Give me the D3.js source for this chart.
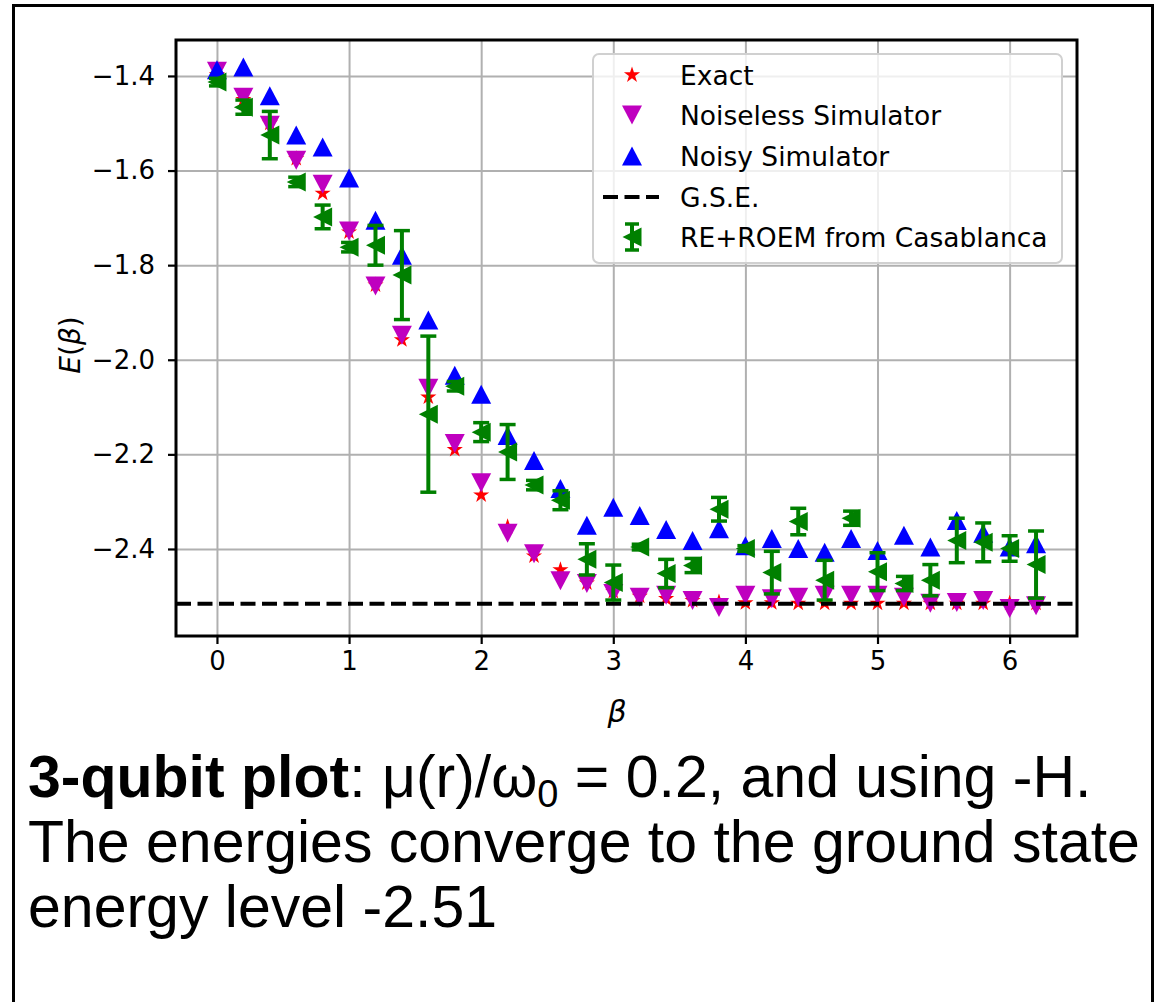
<!DOCTYPE html>
<html lang="en">
<head>
<meta charset="UTF-8">
<title>Energy vs beta</title>
<script src="https://d3js.org/d3.v7.min.js"></script>
<style>
  body { margin: 0; background: #fff; }
  svg { display: block; }
</style>
</head>
<body>
<script>
// --- data ---
var beta = [0, 0.2, 0.4, 0.6, 0.8, 1.0, 1.2, 1.4, 1.6, 1.8, 2.0, 2.2, 2.4, 2.6, 2.8, 3.0,
            3.2, 3.4, 3.6, 3.8, 4.0, 4.2, 4.4, 4.6, 4.8, 5.0, 5.2, 5.4, 5.6, 5.8, 6.0, 6.2];
var exact = [-1.398, -1.45, -1.50, -1.575, -1.648, -1.73, -1.842, -1.958, -2.079, -2.19, -2.286,
             -2.353, -2.415, -2.444, -2.472, -2.49, -2.5, -2.505, -2.509, -2.512, -2.514, -2.514,
             -2.515, -2.515, -2.515, -2.515, -2.515, -2.515, -2.515, -2.515, -2.515, -2.515];
var noiseless = [-1.39, -1.445, -1.504, -1.578, -1.629, -1.728, -1.844, -1.948, -2.06, -2.177, -2.26,
                 -2.367, -2.41, -2.467, -2.473, -2.494, -2.502, -2.498, -2.509, -2.524, -2.498, -2.505,
                 -2.502, -2.498, -2.498, -2.498, -2.502, -2.515, -2.513, -2.509, -2.526, -2.52];
var noisy = [-1.387, -1.381, -1.442, -1.525, -1.55, -1.616, -1.705, -1.779, -1.916, -2.033, -2.073,
             -2.16, -2.213, -2.272, -2.35, -2.312, -2.329, -2.359, -2.382, -2.357, -2.393, -2.378,
             -2.399, -2.407, -2.378, -2.403, -2.371, -2.396, -2.34, -2.367, -2.396, -2.389];
var casablanca = [-1.413, -1.466, -1.525, -1.624, -1.698, -1.762, -1.758, -1.821, -2.115, -2.056, -2.153,
                  -2.195, -2.265, -2.297, -2.422, -2.471, -2.396, -2.452, -2.435, -2.316, -2.399, -2.45,
                  -2.342, -2.466, -2.335, -2.448, -2.473, -2.466, -2.382, -2.386, -2.399, -2.433];
var casablancaErr = [0.008, 0.015, 0.05, 0.01, 0.025, 0.01, 0.042, 0.094, 0.165, 0.01, 0.02,
                     0.058, 0.01, 0.02, 0.033, 0.037, 0.006, 0.03, 0.015, 0.025, 0.006, 0.045,
                     0.028, 0.042, 0.015, 0.04, 0.015, 0.033, 0.047, 0.041, 0.027, 0.071];
var gse = -2.516;
var xTicks = [0, 1, 2, 3, 4, 5, 6];
var yTicks = [-1.4, -1.6, -1.8, -2.0, -2.2, -2.4];
var legendLabels = ['Exact', 'Noiseless Simulator', 'Noisy Simulator', 'G.S.E.', 'RE+ROEM from Casablanca'];

var W = 1162, H = 1002;
var pLeft = 176, pRight = 1077, pTop = 40, pBottom = 636;

var svg = d3.select('body').append('svg')
    .attr('width', W)
    .attr('height', H);

// outer frame of the slide box
svg.append('rect')
   .attr('x', 13.5).attr('y', 5.5)
   .attr('width', 1139).attr('height', 1010)
   .attr('fill', 'none')
   .attr('stroke', '#000')
   .attr('stroke-width', 3);

var x = d3.scaleLinear().domain([-0.31, 6.51]).range([pLeft, pRight]);
var y = d3.scaleLinear().domain([-2.584, -1.324]).range([pBottom, pTop]);

var tickFont = '"DejaVu Sans", sans-serif';
var fmtMinus = function(d) { return d3.format('.1f')(d).replace('-', '\u2212'); };

// grid
var grid = svg.append('g');
grid.append('g')
    .attr('transform', 'translate(0,' + pBottom + ')')
    .call(d3.axisBottom(x).tickValues(xTicks).tickSize(-(pBottom - pTop)).tickFormat(''))
    .call(function(g) { g.select('.domain').remove(); })
    .selectAll('line').attr('stroke', '#b0b0b0').attr('stroke-width', 2);
grid.append('g')
    .attr('transform', 'translate(' + pLeft + ',0)')
    .call(d3.axisLeft(y).tickValues(yTicks).tickSize(-(pRight - pLeft)).tickFormat(''))
    .call(function(g) { g.select('.domain').remove(); })
    .selectAll('line').attr('stroke', '#b0b0b0').attr('stroke-width', 2);

// marker shapes (matplotlib style, centred on bounding box)
function starPath(r) {
  var pts = [];
  for (var i = 0; i < 10; i++) {
    var rr = i % 2 === 0 ? r : r * 0.382;
    var a = -Math.PI / 2 + i * Math.PI / 5;
    pts.push([rr * Math.cos(a), rr * Math.sin(a)]);
  }
  return 'M' + pts.map(function(p) { return p[0].toFixed(2) + ',' + p[1].toFixed(2); }).join('L') + 'Z';
}
var triUp = 'M0,-9.5L-10,9.5L10,9.5Z';
var triDown = 'M0,9.5L-10,-9.5L10,-9.5Z';
var triLeft = 'M-9.5,0L9.5,-9.5L9.5,9.5Z';
var star = starPath(8.5);

var plot = svg.append('g');

function drawMarkers(vals, path, color) {
  plot.append('g').selectAll('path')
      .data(vals)
      .join('path')
      .attr('d', path)
      .attr('fill', color)
      .attr('transform', function(d, i) { return 'translate(' + x(beta[i]) + ',' + y(d) + ')'; });
}

drawMarkers(exact, star, '#ff0000');
drawMarkers(noiseless, triDown, '#bf00bf');
drawMarkers(noisy, triUp, '#0000ff');

// ground state energy line
plot.append('line')
    .attr('x1', pLeft).attr('x2', pRight)
    .attr('y1', y(gse)).attr('y2', y(gse))
    .attr('stroke', '#000')
    .attr('stroke-width', 4)
    .attr('stroke-dasharray', '15,6.5');

// error bars for Casablanca
var eb = plot.append('g').attr('stroke', '#008000');
eb.selectAll('line.bar')
  .data(casablanca)
  .join('line')
  .attr('class', 'bar')
  .attr('x1', function(d, i) { return x(beta[i]); })
  .attr('x2', function(d, i) { return x(beta[i]); })
  .attr('y1', function(d, i) { return y(d + casablancaErr[i]); })
  .attr('y2', function(d, i) { return y(d - casablancaErr[i]); })
  .attr('stroke-width', 4);
[1, -1].forEach(function(s) {
  eb.append('g').selectAll('line')
    .data(casablanca)
    .join('line')
    .attr('x1', function(d, i) { return x(beta[i]) - 8; })
    .attr('x2', function(d, i) { return x(beta[i]) + 8; })
    .attr('y1', function(d, i) { return y(d + s * casablancaErr[i]); })
    .attr('y2', function(d, i) { return y(d + s * casablancaErr[i]); })
    .attr('stroke-width', 3.5);
});
drawMarkers(casablanca, triLeft, '#008000');

// axes
var xAxis = svg.append('g')
    .attr('transform', 'translate(0,' + pBottom + ')')
    .call(d3.axisBottom(x).tickValues(xTicks).tickSize(8).tickPadding(8).tickFormat(d3.format('d')));
var yAxis = svg.append('g')
    .attr('transform', 'translate(' + pLeft + ',0)')
    .call(d3.axisLeft(y).tickValues(yTicks).tickSize(8).tickPadding(13).tickFormat(fmtMinus));
[xAxis, yAxis].forEach(function(a) {
  a.select('.domain').remove();
  a.selectAll('line').attr('stroke', '#000').attr('stroke-width', 2.2);
  a.selectAll('text').attr('font-family', tickFont).attr('font-size', 26).attr('fill', '#000');
});

// spines
svg.append('rect')
   .attr('x', pLeft).attr('y', pTop)
   .attr('width', pRight - pLeft).attr('height', pBottom - pTop)
   .attr('fill', 'none')
   .attr('stroke', '#000')
   .attr('stroke-width', 3);

// axis labels
svg.append('text')
   .attr('x', 617).attr('y', 722)
   .attr('text-anchor', 'middle')
   .attr('font-family', tickFont).attr('font-style', 'italic').attr('font-size', 30)
   .text('\u03b2');

var yl = svg.append('text')
   .attr('transform', 'translate(80,345) rotate(-90)')
   .attr('text-anchor', 'middle')
   .attr('font-family', tickFont).attr('font-size', 28);
yl.append('tspan').attr('font-style', 'italic').text('E');
yl.append('tspan').text('(');
yl.append('tspan').attr('font-style', 'italic').text('\u03b2');
yl.append('tspan').text(')');

// legend
var lg = svg.append('g').attr('transform', 'translate(593,54)');
lg.append('rect')
  .attr('width', 469).attr('height', 209)
  .attr('rx', 6)
  .attr('fill', '#fff').attr('fill-opacity', 0.8)
  .attr('stroke', '#d0d0d0').attr('stroke-width', 2);
var rowY = [21, 61, 102, 143, 183];
var mx = 39;
lg.append('path').attr('d', star).attr('fill', '#ff0000').attr('transform', 'translate(' + mx + ',' + rowY[0] + ')');
lg.append('path').attr('d', triDown).attr('fill', '#bf00bf').attr('transform', 'translate(' + mx + ',' + rowY[1] + ')');
lg.append('path').attr('d', triUp).attr('fill', '#0000ff').attr('transform', 'translate(' + mx + ',' + rowY[2] + ')');
lg.append('line')
  .attr('x1', 10).attr('x2', 66).attr('y1', rowY[3]).attr('y2', rowY[3])
  .attr('stroke', '#000').attr('stroke-width', 4).attr('stroke-dasharray', '15,6.5');
var lgE = lg.append('g').attr('stroke', '#008000');
lgE.append('line').attr('x1', mx).attr('x2', mx).attr('y1', rowY[4] - 13).attr('y2', rowY[4] + 13).attr('stroke-width', 4);
lgE.append('line').attr('x1', mx - 7).attr('x2', mx + 7).attr('y1', rowY[4] - 13).attr('y2', rowY[4] - 13).attr('stroke-width', 3.5);
lgE.append('line').attr('x1', mx - 7).attr('x2', mx + 7).attr('y1', rowY[4] + 13).attr('y2', rowY[4] + 13).attr('stroke-width', 3.5);
lg.append('path').attr('d', triLeft).attr('fill', '#008000').attr('transform', 'translate(' + mx + ',' + rowY[4] + ')');
lg.selectAll('text.lab')
  .data(legendLabels)
  .join('text')
  .attr('class', 'lab')
  .attr('x', 87)
  .attr('y', function(d, i) { return rowY[i]; })
  .attr('dy', '0.36em')
  .attr('font-family', tickFont).attr('font-size', 26.5)
  .text(function(d) { return d; });

// caption
var capFont = '"Liberation Sans", Arial, sans-serif';
var c1 = svg.append('text').attr('x', 28).attr('y', 797)
    .attr('font-family', capFont).attr('font-size', 59);
c1.append('tspan').attr('font-weight', 'bold').text('3-qubit plot');
c1.append('tspan').text(': \u03bc(r)/\u03c9');
c1.append('tspan').attr('font-size', 38).attr('dy', 10).text('0');
c1.append('tspan').attr('dy', -10).text(' = 0.2, and using -H.');
svg.append('text').attr('x', 28).attr('y', 862)
   .attr('font-family', capFont).attr('font-size', 59)
   .text('The energies converge to the ground state');
svg.append('text').attr('x', 28).attr('y', 927)
   .attr('font-family', capFont).attr('font-size', 59)
   .text('energy level -2.51');
</script>
</body>
</html>
